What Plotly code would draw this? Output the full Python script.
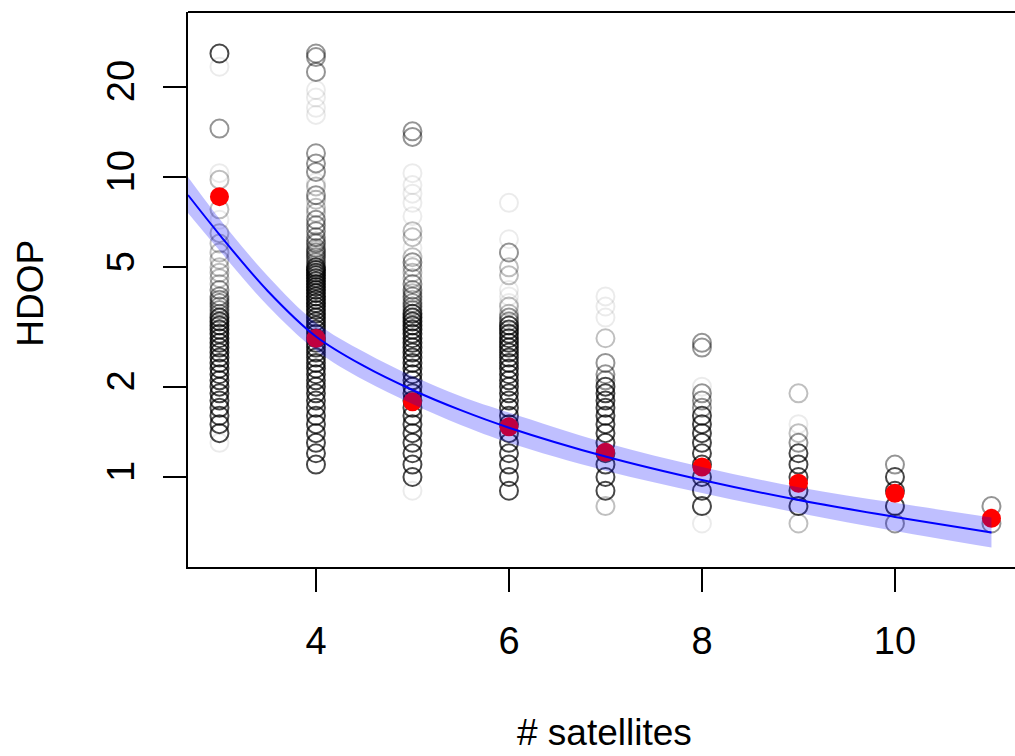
import plotly.graph_objects as go

# ---------------- data ----------------
satellites = [3, 4, 5, 6, 7, 8, 9, 10, 11]

# individual HDOP observations, grouped by how dark their circle is drawn
hdop_dark = {
    3: [1.4, 1.5, 1.6, 1.7, 1.8, 1.9, 2.0, 2.1, 2.2, 2.3, 2.4, 2.5, 2.6, 2.7, 2.8,
        2.9, 3.0, 3.1, 3.2, 3.3, 3.4, 25.8],
    4: [1.1, 1.2, 1.3, 1.4, 1.5, 1.6, 1.7, 1.8, 1.9, 2.0, 2.1, 2.2, 2.3, 2.4, 2.5,
        2.6, 2.7, 2.8, 2.9, 3.0, 3.1, 3.2, 3.3, 3.4, 3.5, 3.6, 3.7, 3.8, 3.9, 4.0,
        4.1, 4.2, 4.3, 4.4, 4.5, 4.6, 4.7, 4.8, 4.9, 5.0],
    5: [1.0, 1.1, 1.2, 1.3, 1.4, 1.5, 1.6, 1.7, 1.8, 1.9, 2.0, 2.1, 2.2, 2.3, 2.4,
        2.5, 2.6, 2.7, 2.8, 2.9, 3.0, 3.1, 3.2, 3.3, 3.4, 3.5],
    6: [0.9, 1.0, 1.1, 1.2, 1.3, 1.4, 1.5, 1.6, 1.7, 1.8, 1.9, 2.0, 2.1, 2.2, 2.3,
        2.4, 2.5, 2.6, 2.7, 2.8, 2.9, 3.0, 3.1, 3.2],
    7: [0.9, 1.0, 1.1, 1.2, 1.3, 1.4, 1.5, 1.6, 1.7, 1.8, 1.9, 2.0],
    8: [0.8, 0.9, 1.0, 1.1, 1.2, 1.3, 1.4, 1.5, 1.6],
    9: [0.8, 0.9, 1.0, 1.1, 1.2],
    10: [0.8, 0.9, 1.0],
    11: [],
}
hdop_mid = {
    3: [3.5, 3.6, 3.7, 3.8, 3.9, 4.0, 4.2, 14.5],
    4: [5.2, 5.4, 5.6, 5.8, 6.0, 6.3, 6.6, 6.9, 7.2, 8.7, 10.4, 11.1, 12.0, 22.4, 25.1, 25.8],
    5: [3.6, 3.7, 3.8, 4.0, 4.2, 4.4, 5.2, 13.6, 14.2],
    6: [3.3, 3.4, 5.6],
    7: [2.1, 2.2, 2.4],
    8: [1.7, 1.8, 1.9, 2.7, 2.8],
    9: [1.3],
    10: [0.7, 1.1],
    11: [0.7, 0.8],
}
hdop_light = {
    3: [4.4, 4.6, 4.8, 5.0, 5.3, 5.6, 6.0, 6.5, 7.8, 9.8],
    4: [5.1, 5.3, 5.5, 5.7, 6.1, 7.6, 7.9, 8.4, 9.3],
    5: [3.9, 4.1, 4.6, 4.8, 5.0, 5.4, 6.3, 6.6],
    6: [3.5, 3.7, 4.7, 5.0],
    7: [0.8, 2.9],
    8: [],
    9: [0.7, 1.4, 1.9],
    10: [],
    11: [],
}
hdop_faint = {
    3: [1.3, 7.2, 10.3, 23.3],
    4: [9.6, 16.1, 17.0, 18.4, 19.5],
    5: [0.9, 5.8, 7.4, 8.2, 8.8, 9.4, 10.3],
    6: [3.8, 4.0, 4.2, 6.2, 8.2],
    7: [3.4, 3.7, 4.0],
    8: [0.7, 2.0],
    9: [1.5],
    10: [],
    11: [],
}

# mean HDOP per number of satellites (red dots)
mean_hdop = [8.6, 2.90, 1.78, 1.47, 1.21, 1.08, 0.953, 0.883, 0.728]

# fitted curve and its confidence band
curve_sat = [2.674, 3.0, 3.5, 4.0, 4.5, 5.0, 5.5, 6.0, 7.0, 8.0, 9.0, 10.0, 11.0]
curve_fit = [8.71, 6.43, 4.17, 2.94, 2.34, 1.95, 1.67, 1.46, 1.17, 0.977, 0.838, 0.736, 0.653]
curve_upper = [10.0, 7.26, 4.68, 3.27, 2.61, 2.17, 1.86, 1.64, 1.30, 1.08, 0.925, 0.820, 0.733]
curve_lower = [7.59, 5.69, 3.72, 2.64, 2.10, 1.75, 1.49, 1.30, 1.05, 0.885, 0.759, 0.661, 0.582]

y_ticks = [1, 2, 5, 10, 20]
x_ticks = [4, 6, 8, 10]

# ---------------- figure ----------------
FONT = "Liberation Sans, Arial, Helvetica, sans-serif"
fig = go.Figure()

shade_groups = [
    (hdop_faint, "rgba(0,0,0,0.08)"),
    (hdop_light, "rgba(0,0,0,0.25)"),
    (hdop_mid, "rgba(0,0,0,0.42)"),
    (hdop_dark, "rgba(0,0,0,0.72)"),
]
for group, colour in shade_groups:
    xs, ys = [], []
    for s in satellites:
        for v in group[s]:
            xs.append(s)
            ys.append(v)
    fig.add_trace(go.Scatter(
        x=xs, y=ys, mode="markers",
        marker=dict(symbol="circle-open", size=18, color=colour,
                    line=dict(width=2, color=colour)),
        showlegend=False, hoverinfo="x+y"))

fig.add_trace(go.Scatter(
    x=satellites, y=mean_hdop, mode="markers",
    marker=dict(symbol="circle", size=19, color="#ff0000", line=dict(width=0)),
    showlegend=False))

fig.add_trace(go.Scatter(
    x=curve_sat, y=curve_lower, mode="lines",
    line=dict(width=0, color="rgba(0,0,255,0)", shape="spline"),
    showlegend=False, hoverinfo="skip"))
fig.add_trace(go.Scatter(
    x=curve_sat, y=curve_upper, mode="lines", fill="tonexty",
    fillcolor="rgba(0,0,255,0.25)",
    line=dict(width=0, color="rgba(0,0,255,0)", shape="spline"),
    showlegend=False, hoverinfo="skip"))
fig.add_trace(go.Scatter(
    x=curve_sat, y=curve_fit, mode="lines",
    line=dict(width=2, color="#0000ff", shape="spline"),
    showlegend=False))

fig.update_layout(
    width=1015, height=756,
    margin=dict(l=188, r=0, t=12, b=189),
    paper_bgcolor="white", plot_bgcolor="white",
    font=dict(family=FONT, size=38, color="black"),
    xaxis=dict(range=[2.674, 11.244], tickvals=x_ticks,
               ticktext=[str(t) for t in x_ticks],
               showgrid=False, zeroline=False, showline=True,
               linecolor="black", linewidth=2,
               ticks="outside", ticklen=23, tickwidth=1.5, tickcolor="black",
               ticklabelstandoff=16,
               tickfont=dict(size=38)),
    yaxis=dict(type="log", range=[-0.3, 1.55], tickvals=y_ticks,
               ticktext=[str(t) for t in y_ticks], tickangle=-90,
               showgrid=False, zeroline=False, showline=True,
               linecolor="black", linewidth=2,
               ticks="outside", ticklen=23, tickwidth=1.5, tickcolor="black",
               ticklabelstandoff=14,
               tickfont=dict(size=38)),
    shapes=[dict(type="line", xref="paper", yref="paper", x0=0, x1=1, y0=1, y1=1,
                 line=dict(color="black", width=2))],
    annotations=[
        dict(text="# satellites", xref="paper", yref="paper", x=0.504, y=-0.299,
             xanchor="center", yanchor="middle", showarrow=False,
             font=dict(size=37)),
        dict(text="HDOP", xref="paper", yref="paper", x=-0.190, y=0.494,
             xanchor="center", yanchor="middle", textangle=-90, showarrow=False,
             font=dict(size=37)),
    ],
)

fig.write_html(
    "out.html",
    config={"displayModeBar": False},
    post_script="document.body.style.margin='0';document.body.style.overflow='hidden';",
)
